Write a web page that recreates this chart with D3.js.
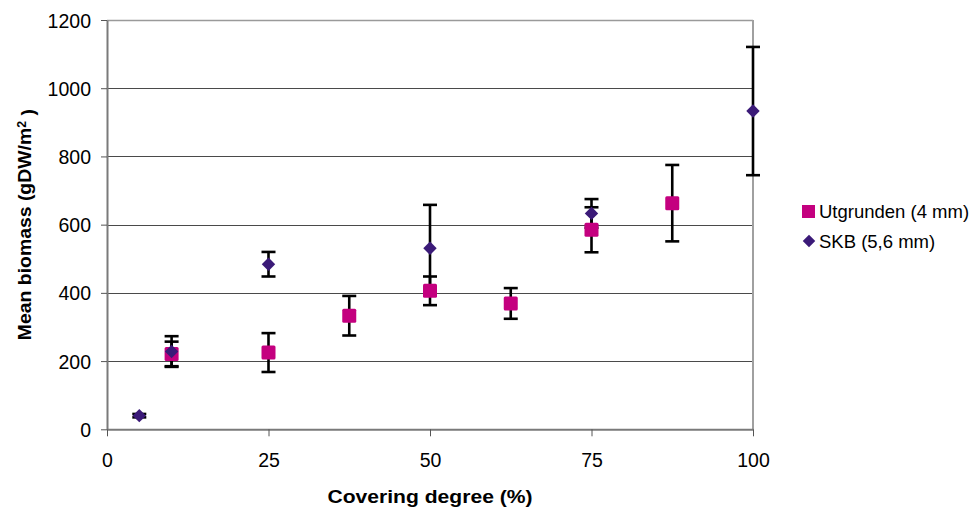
<!DOCTYPE html>
<html>
<head>
<meta charset="utf-8">
<script src="https://cdn.jsdelivr.net/npm/d3@7"></script>
<style>
  body { margin: 0; background: #fff; }
  svg { display: block; font-family: 'Liberation Sans', Arial, sans-serif; }
</style>
</head>
<body>
<div id="chart"></div>
<script>
// Utgrunden (4 mm) — squares
const utgX = [10, 25, 37.5, 50, 62.5, 75, 87.5]
const utgMean = [221, 225, 333, 406, 369, 585, 663]
const utgErr = [36, 57, 58, 42, 45, 66, 112]

// SKB (5,6 mm) — diamonds
const skbX = [5, 10, 25, 50, 75, 100]
const skbMean = [40, 228, 484, 531, 633, 933]
const skbErr = [5, 45, 36, 127, 42, 188]

const xTicks = [0, 25, 50, 75, 100]
const yTicks = [0, 200, 400, 600, 800, 1000, 1200]

const UTG_COLOR = '#c4007f'
const SKB_COLOR = '#3b1a78'

const width = 971
const height = 513
const margin = { top: 20, left: 107, right: 218, bottom: 83.7 }
const inner = { w: width - margin.left - margin.right, h: height - margin.top - margin.bottom }

const svg = d3.select('#chart').append('svg')
  .attr('width', width).attr('height', height)

const g = svg.append('g').attr('transform', `translate(${margin.left},${margin.top})`)

const x = d3.scaleLinear().domain([0, 100]).range([0, inner.w])
const y = d3.scaleLinear().domain([0, 1200]).range([inner.h, 0])

// grid lines
g.append('g').selectAll('line').data(yTicks.filter(d => d > 0 && d < 1200)).join('line')
  .attr('x1', 0).attr('x2', inner.w)
  .attr('y1', d => Math.round(y(d)) + 0.5).attr('y2', d => Math.round(y(d)) + 0.5)
  .attr('stroke', '#4a4a4a').attr('stroke-width', 1)

// top and right border
g.append('line').attr('x1', 0).attr('x2', inner.w).attr('y1', 0.5).attr('y2', 0.5)
  .attr('stroke', '#9a9a9a').attr('stroke-width', 1.5)
g.append('line').attr('x1', inner.w).attr('x2', inner.w).attr('y1', 0).attr('y2', inner.h)
  .attr('stroke', '#a0a0a0').attr('stroke-width', 2)

// axes
const yAxis = g.append('g')
  .call(d3.axisLeft(y).tickValues(yTicks).tickFormat(d3.format('d'))
    .tickSize(6).tickSizeOuter(0).tickPadding(10))
const xAxis = g.append('g').attr('transform', `translate(0,${inner.h})`)
  .call(d3.axisBottom(x).tickValues(xTicks).tickFormat(d3.format('d'))
    .tickSize(7).tickSizeOuter(0).tickPadding(17))

;[yAxis, xAxis].forEach(a => {
  a.select('.domain').attr('stroke', '#7a7a7a').attr('stroke-width', 2)
  a.selectAll('.tick line').attr('stroke', '#555').attr('stroke-width', 1)
  a.selectAll('.tick text').attr('fill', '#000')
    .style('font-size', '19.5px').style('font-family', "'Liberation Sans', Arial, sans-serif")
})
yAxis.selectAll('.tick text').attr('dy', '0.36em')

// error bars
const capW = 7
function errorBars(xs, means, errs) {
  const pts = xs.map((v, i) => ({ x: v, m: means[i], e: errs[i] }))
  const eg = g.append('g').attr('stroke', '#000').attr('stroke-width', 2.6)
  eg.selectAll('line.v').data(pts).join('line').attr('class', 'v')
    .attr('x1', d => x(d.x)).attr('x2', d => x(d.x))
    .attr('y1', d => y(d.m - d.e)).attr('y2', d => y(d.m + d.e))
  eg.selectAll('line.t').data(pts).join('line').attr('class', 't')
    .attr('x1', d => x(d.x) - capW).attr('x2', d => x(d.x) + capW)
    .attr('y1', d => y(d.m + d.e)).attr('y2', d => y(d.m + d.e))
  eg.selectAll('line.b').data(pts).join('line').attr('class', 'b')
    .attr('x1', d => x(d.x) - capW).attr('x2', d => x(d.x) + capW)
    .attr('y1', d => y(d.m - d.e)).attr('y2', d => y(d.m - d.e))
}
errorBars(skbX, skbMean, skbErr)
errorBars(utgX, utgMean, utgErr)

// markers
const sq = 14
g.append('g').selectAll('rect').data(utgX.map((v, i) => [v, utgMean[i]])).join('rect')
  .attr('x', d => x(d[0]) - sq / 2).attr('y', d => y(d[1]) - sq / 2)
  .attr('width', sq).attr('height', sq).attr('rx', 1.5)
  .attr('fill', UTG_COLOR)

const diamond = d3.symbol().type(d3.symbolDiamond2).size(115)
g.append('g').selectAll('path').data(skbX.map((v, i) => [v, skbMean[i]])).join('path')
  .attr('d', diamond)
  .attr('transform', d => `translate(${x(d[0])},${y(d[1])})`)
  .attr('fill', SKB_COLOR)

// axis titles
svg.append('text')
  .attr('x', margin.left + inner.w / 2).attr('y', 503)
  .attr('text-anchor', 'middle')
  .attr('textLength', 205).attr('lengthAdjust', 'spacingAndGlyphs')
  .style('font-size', '19px').style('font-weight', 'bold')
  .text('Covering degree (%)')

const yt = svg.append('text')
  .attr('transform', `translate(31,${margin.top + inner.h / 2}) rotate(-90)`)
  .attr('text-anchor', 'middle')
  .attr('textLength', 231).attr('lengthAdjust', 'spacingAndGlyphs')
  .style('font-size', '19px').style('font-weight', 'bold')
yt.append('tspan').text('Mean biomass (gDW/m')
yt.append('tspan').attr('dy', '-0.45em').style('font-size', '12px').text('2')
yt.append('tspan').attr('dy', '0.45em').text(' )')

// legend
const legend = svg.append('g').attr('transform', 'translate(802,0)')
legend.append('rect').attr('x', 0).attr('y', 205).attr('width', 13).attr('height', 13)
  .attr('fill', UTG_COLOR)
legend.append('text').attr('x', 17).attr('y', 218).style('font-size', '18.5px')
  .text('Utgrunden (4 mm)')
legend.append('path').attr('d', d3.symbol().type(d3.symbolDiamond2).size(100))
  .attr('transform', 'translate(7,241)').attr('fill', SKB_COLOR)
legend.append('text').attr('x', 17).attr('y', 247.5).style('font-size', '18.5px')
  .text('SKB (5,6 mm)')
</script>
</body>
</html>
